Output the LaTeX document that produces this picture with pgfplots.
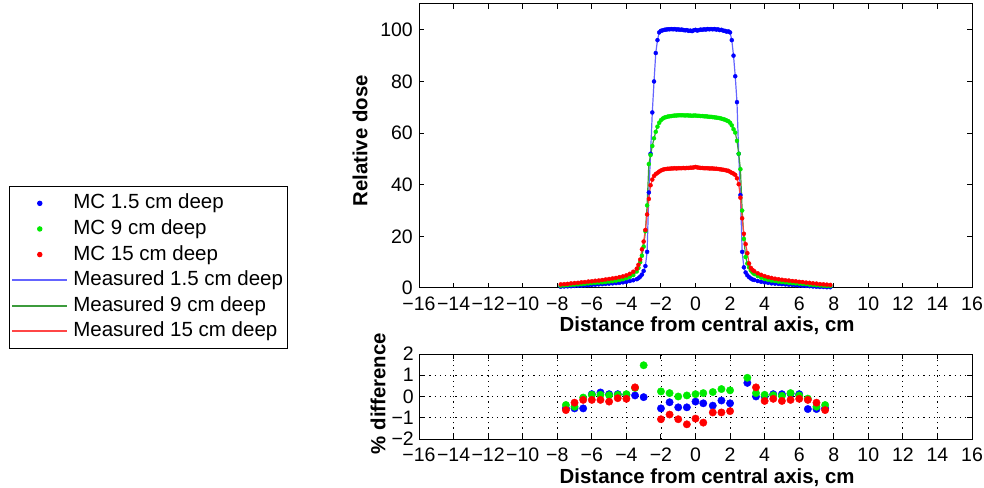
\documentclass[border=0pt]{standalone}
\usepackage{pgfplots}
\pgfplotsset{compat=1.18}
\usepackage{pgfplotstable}
\usepackage{fontspec}
\setmainfont{Liberation Sans}

\definecolor{mcblue}{RGB}{0,0,255}
\definecolor{mcgreen}{RGB}{0,235,0}
\definecolor{mcred}{RGB}{255,0,0}
\definecolor{mblue}{RGB}{100,100,255}
\definecolor{mgreen}{RGB}{60,155,60}
\definecolor{mred}{RGB}{255,70,70}

% Dose profiles (relative dose) at 1.5, 9 and 15 cm depth
\pgfplotstableread{
x b g r
-7.8 0.5 0.9 1.4
-7.6 0.6 1.0 1.5
-7.4 0.65 1.1 1.6
-7.2 0.7 1.2 1.8
-7.0 0.8 1.3 1.9
-6.8 0.9 1.4 2.0
-6.6 0.95 1.5 2.2
-6.4 1.0 1.6 2.3
-6.2 1.1 1.8 2.5
-6.0 1.2 1.9 2.6
-5.8 1.3 2.0 2.8
-5.6 1.4 2.1 2.9
-5.4 1.5 2.2 3.1
-5.2 1.6 2.3 3.3
-5.0 1.7 2.5 3.5
-4.8 1.8 2.65 3.7
-4.6 1.9 2.85 3.9
-4.4 2.0 3.1 4.2
-4.2 2.2 3.4 4.5
-4.0 2.4 3.8 4.9
-3.8 2.7 4.3 5.5
-3.6 3.0 5.0 6.3
-3.4 3.4 6.4 7.5
-3.3 3.8 7.8 9.0
-3.2 4.4 10.0 11.0
-3.1 5.2 12.5 15.0
-3.0 6.6 16.0 18.0
-2.9 8.5 22.0 22.5
-2.8 14.0 32.0 28.5
-2.7 37.0 48.0 34.5
-2.6 52.0 51.5 39.8
-2.5 68.0 55.0 42.0
-2.4 80.0 58.0 43.4
-2.3 91.0 60.5 44.1
-2.2 96.0 62.5 44.6
-2.1 99.0 64.0 45.1
-2.0 99.6 65.0 45.5
-1.9 99.8 65.6 45.8
-1.8 100.0 66.0 46.0
-1.7 100.1 66.2 46.1
-1.6 100.2 66.4 46.2
-1.5 100.2 66.5 46.2
-1.4 100.3 66.6 46.3
-1.3 100.2 66.7 46.3
-1.2 100.3 66.8 46.4
-1.1 100.1 66.8 46.3
-1.0 100.2 66.9 46.4
-0.9 100.0 66.9 46.4
-0.8 100.1 66.9 46.4
-0.7 99.9 66.9 46.5
-0.6 99.8 66.8 46.4
-0.5 99.9 66.9 46.5
-0.4 99.6 66.8 46.5
-0.3 99.7 66.8 46.6
-0.2 99.5 66.7 46.6
-0.1 99.8 66.8 46.7
0.0 100.0 66.8 46.9
0.1 99.7 66.7 46.7
0.2 99.9 66.7 46.6
0.3 100.1 66.6 46.5
0.4 100.0 66.6 46.5
0.5 100.2 66.5 46.4
0.6 100.1 66.5 46.4
0.7 100.3 66.4 46.4
0.8 100.2 66.3 46.3
0.9 100.3 66.3 46.3
1.0 100.2 66.2 46.3
1.1 100.3 66.1 46.2
1.2 100.1 66.0 46.2
1.3 100.2 65.9 46.1
1.4 99.9 65.8 46.0
1.5 100.0 65.6 45.9
1.6 99.7 65.4 45.8
1.7 99.6 65.2 45.7
1.8 99.3 64.9 45.5
1.9 99.4 64.6 45.4
2.0 99.0 64.0 45.0
2.1 96.0 63.0 44.6
2.2 90.0 61.5 44.3
2.3 82.0 60.2 43.8
2.4 72.0 57.0 42.5
2.5 52.0 52.0 40.2
2.6 36.0 46.0 35.0
2.7 14.0 30.0 27.0
2.8 8.0 19.0 21.0
2.9 6.0 12.0 17.0
3.0 4.9 9.5 13.5
3.1 4.2 8.0 9.5
3.2 3.7 6.8 7.8
3.3 3.3 6.0 7.0
3.4 3.1 5.4 6.5
3.6 2.7 4.6 5.7
3.8 2.4 4.0 5.1
4.0 2.2 3.5 4.6
4.2 2.0 3.2 4.2
4.4 1.8 2.9 3.9
4.6 1.7 2.7 3.6
4.8 1.6 2.5 3.4
5.0 1.5 2.3 3.2
5.2 1.4 2.2 3.0
5.4 1.3 2.0 2.9
5.6 1.2 1.9 2.7
5.8 1.1 1.8 2.6
6.0 1.0 1.7 2.4
6.2 0.9 1.6 2.3
6.4 0.8 1.5 2.1
6.6 0.7 1.3 2.0
6.8 0.6 1.2 1.8
7.0 0.5 1.1 1.7
7.2 0.4 1.0 1.5
7.4 0.4 0.9 1.4
7.6 0.3 0.8 1.3
7.8 0.3 0.8 1.2
}\dose

% Percent difference between MC and measurement
\pgfplotstableread{
x d
-7.5 -0.55
-7.0 -0.56
-6.5 -0.56
-6.0 0.11
-5.5 0.19
-5.0 0.11
-4.5 0.11
-4.0 0.08
-3.5 0.05
-3.0 -0.03
-2.0 -0.56
-1.5 -0.27
-1.0 -0.51
-0.5 -0.51
0.0 -0.24
0.45 -0.32
1.0 -0.43
1.5 -0.19
2.0 -0.32
3.0 0.64
3.5 0.0
4.0 0.0
4.5 0.11
5.0 0.11
5.5 0.13
6.0 0.11
6.5 -0.59
7.0 -0.59
7.5 -0.55
}\diffb
\pgfplotstableread{
x d
-7.5 -0.40
-7.0 -0.48
-6.5 -0.05
-6.0 0.08
-5.5 0.08
-5.0 0.06
-4.5 0.08
-4.0 0.11
-3.5 0.40
-3.0 1.47
-2.0 0.24
-1.5 0.16
-1.0 0.0
-0.5 0.05
0.0 0.11
0.45 0.16
1.0 0.21
1.5 0.35
2.0 0.29
3.0 0.88
3.5 0.16
4.0 0.08
4.5 0.06
5.0 0.03
5.5 0.16
6.0 0.05
6.5 -0.10
7.0 -0.48
7.5 -0.40
}\diffg
\pgfplotstableread{
x d
-7.5 -0.64
-7.0 -0.29
-6.5 -0.16
-6.0 -0.16
-5.5 -0.16
-5.0 -0.24
-4.5 -0.08
-4.0 -0.11
-3.5 0.43
-2.0 -1.07
-1.5 -0.85
-1.0 -1.07
-0.5 -1.31
0.0 -1.04
0.45 -1.23
1.0 -0.75
1.5 -0.75
2.0 -0.69
3.5 0.43
4.0 -0.21
4.5 -0.11
5.0 -0.21
5.5 -0.16
6.0 -0.11
6.5 -0.16
7.0 -0.29
7.5 -0.64
}\diffr

\pgfplotsset{
  panel/.style={
    scale only axis, width=553pt,
    xmin=-16, xmax=16,
    axis line style={line width=1pt, black},
    tick align=inside, tick pos=both,
    major tick length=5pt,
    every tick/.style={line width=1pt, black},
    xtick={-16,-14,...,16},
    xticklabels={−16,−14,−12,−10,−8,−6,−4,−2,0,2,4,6,8,10,12,14,16},
    tick label style={font=\fontsize{19.5pt}{22pt}\selectfont},
    xticklabel style={inner xsep=0pt, inner ysep=9pt},
    yticklabel style={inner xsep=6pt},
    label style={font=\bfseries\fontsize{20.4pt}{24pt}\selectfont},
  },
  % legend samples: a dot in the middle of the cell, or a 55pt line
  dotkey/.style={legend image code/.code={\fill[#1] (27.5pt,0pt) circle (2.2pt);}},
  linekey/.style={legend image code/.code={\draw[#1, line width=2.2pt] (0pt,0pt) -- (55pt,0pt);}},
}

\begin{document}
\begin{tikzpicture}
\begin{axis}[panel,
  at={(419pt,199pt)}, anchor=south west, height=284pt,
  ymin=0, ymax=110,
  ytick={0,20,...,100},
  yticklabels={0,20,40,60,80,100},
  xlabel={Distance from central axis, cm},
  xlabel style={at={(axis description cs:0.521,-0.134)}, anchor=center},
  ylabel={Relative dose},
  ylabel style={at={(axis description cs:-0.1067,0.518)}, anchor=center},
  legend cell align=left,
  legend style={at={(axis description cs:-0.742,0.359)}, anchor=north west,
    draw=black, line width=1pt, inner xsep=2pt, inner ysep=4pt, column sep=3pt,
    font=\fontsize{20.5pt}{24pt}\selectfont,
    nodes={inner xsep=2pt, inner ysep=3.3pt, text height=15pt, text depth=4pt}},
]
\addplot[only marks, mark=*, mark size=2pt, color=mcblue, dotkey=mcblue] table[x=x,y=b]{\dose};
\addlegendentry{MC 1.5 cm deep}
\addplot[only marks, mark=*, mark size=2pt, color=mcgreen, dotkey=mcgreen] table[x=x,y=g]{\dose};
\addlegendentry{MC 9 cm deep}
\addplot[only marks, mark=*, mark size=2pt, color=mcred, dotkey=mcred] table[x=x,y=r]{\dose};
\addlegendentry{MC 15 cm deep}
\addplot[color=mblue, line width=1.2pt, no marks, linekey=mblue] table[x=x,y=b]{\dose};
\addlegendentry{Measured 1.5 cm deep}
\addplot[color=mgreen, line width=1.2pt, no marks, linekey=mgreen] table[x=x,y=g]{\dose};
\addlegendentry{Measured 9 cm deep}
\addplot[color=mred, line width=1.2pt, no marks, linekey=mred] table[x=x,y=r]{\dose};
\addlegendentry{Measured 15 cm deep}
\end{axis}

\begin{axis}[panel,
  at={(419pt,48pt)}, anchor=south west, height=85pt,
  ymin=-2, ymax=2,
  ytick={-2,-1,0,1,2},
  yticklabels={−2,−1,0,1,2},
  yticklabel style={inner xsep=5pt},
  grid=major,
  grid style={black, line width=0.8pt, dash pattern=on 1.2pt off 4pt},
  xlabel={Distance from central axis, cm},
  xlabel style={at={(axis description cs:0.521,-0.459)}, anchor=center},
  ylabel={\% difference},
  ylabel style={at={(axis description cs:-0.074,0.535)}, anchor=center},
]
\addplot[only marks, mark=*, mark size=3.7pt, color=mcblue] table[x=x,y=d]{\diffb};
\addplot[only marks, mark=*, mark size=3.7pt, color=mcgreen] table[x=x,y=d]{\diffg};
\addplot[only marks, mark=*, mark size=3.7pt, color=mcred] table[x=x,y=d]{\diffr};
\end{axis}
\pgfresetboundingbox
\path[use as bounding box] (0pt,0pt) rectangle (984pt,487pt);
\end{tikzpicture}
\end{document}
